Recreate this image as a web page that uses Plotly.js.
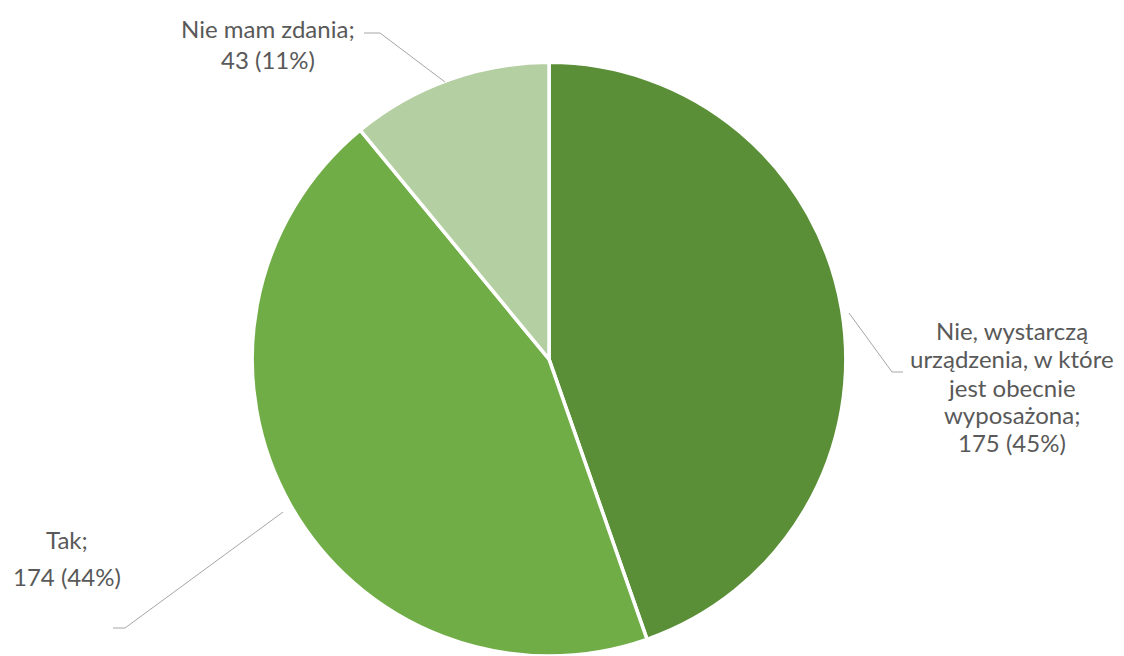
<!DOCTYPE html>
<html>
<head>
<meta charset="utf-8">
<script src="https://cdn.plot.ly/plotly-3.0.1.min.js"></script>
<style>html,body{margin:0;padding:0;background:#fff;overflow:hidden}</style>
</head>
<body>
<div id="chart" style="width:1124px;height:656px"></div>
<script>
// Data
const categories = ["Nie, wystarczą urządzenia, w które jest obecnie wyposażona", "Tak", "Nie mam zdania"];
const values = [175, 174, 43];
const percents = [45, 44, 11];
const colors = ["#5A8F38", "#70AD47", "#B4CFA1"];
// Label lines as they wrap in the reference
const labelLines = [
  ["Nie, wystarczą", "urządzenia, w które", "jest obecnie", "wyposażona;"],
  ["Tak;"],
  ["Nie mam zdania;"]
];

const W = 1124, H = 656;
const px = x => x / W;
const py = y => 1 - y / H;

// Label placement (pixel positions of line centres)
const labelPos = [
  {x: 1012, y: [330, 358, 387, 414, 442]},
  {x: 67, y: [539, 576]},
  {x: 268, y: [28, 59]}
];
const textFont = {family: "Lato, 'Open Sans', sans-serif", size: 24, color: "#595959"};

const annotations = [];
labelLines.forEach((lines, i) => {
  const all = lines.concat([values[i] + " (" + percents[i] + "%)"]);
  all.forEach((t, j) => {
    annotations.push({
      text: t, xref: "paper", yref: "paper",
      x: px(labelPos[i].x), y: py(labelPos[i].y[j]),
      xanchor: "center", yanchor: "middle", showarrow: false, font: textFont
    });
  });
});

// Leader lines (pixel polylines)
const leaders = [
  [[849, 313], [892, 372], [903, 372]],
  [[283, 512], [125, 628], [113, 628]],
  [[445, 82], [380, 33], [364, 33]]
];
const shapes = [];
leaders.forEach(pts => {
  for (let k = 0; k < pts.length - 1; k++) {
    shapes.push({
      type: "line", xref: "paper", yref: "paper",
      x0: px(pts[k][0]), y0: py(pts[k][1]), x1: px(pts[k+1][0]), y1: py(pts[k+1][1]),
      line: {color: "#A6A6A6", width: 1}
    });
  }
});

const trace = {
  type: "pie",
  labels: categories,
  values: values,
  sort: false,
  direction: "clockwise",
  rotation: 0,
  marker: {colors: colors, line: {color: "#FFFFFF", width: 3.5}},
  textinfo: "none",
  hoverinfo: "label+value+percent",
  domain: {x: [0, 1098 / W], y: [0, 0.905]},
  showlegend: false
};

const layout = {
  width: W, height: H,
  margin: {l: 0, r: 0, t: 0, b: 0},
  paper_bgcolor: "#FFFFFF",
  plot_bgcolor: "#FFFFFF",
  showlegend: false,
  annotations: annotations,
  shapes: shapes
};

Plotly.newPlot("chart", [trace], layout, {displayModeBar: false, staticPlot: true});
</script>
</body>
</html>
